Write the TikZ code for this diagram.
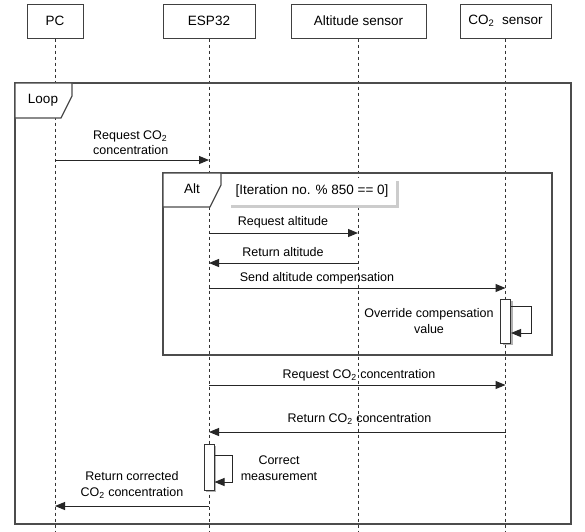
\documentclass[tikz,border=0pt]{standalone}
\usepackage{fontspec}
\setmainfont{Liberation Sans}
\usetikzlibrary{arrows.meta,shadows}
\tikzset{
  hdr/.style={draw=black!75, line width=1pt, fill=white, minimum height=34pt, inner sep=0pt, font=\fontsize{13.5}{16}\selectfont},
  life/.style={draw=black!80, line width=1pt, dash pattern=on 3pt off 3pt},
  frame/.style={draw=black!70, line width=1.2pt},
  tab/.style={draw=black!70, line width=1.2pt, fill=white},
  msg/.style={draw=black!85, line width=1pt, -{Triangle[length=10pt,width=8pt]}},
  lbl/.style={font=\fontsize{12.5}{15.5}\selectfont, inner sep=0pt, align=center},
  ttl/.style={font=\fontsize{13.5}{16}\selectfont, inner sep=0pt},
  act/.style={draw=black!80, line width=1pt, fill=white, minimum width=10pt, inner sep=0pt,
    drop shadow={shadow xshift=2pt, shadow yshift=-2pt, fill=black!30, opacity=1}},
}
\begin{document}
\begin{tikzpicture}[x=1pt,y=-1pt]
\useasboundingbox (0,0) rectangle (585,531);
\fill[white] (0,0) rectangle (585,531);

% lifeline ends
\coordinate (pcE) at (55,531);
\coordinate (espE) at (209,531);
\coordinate (altE) at (358,531);
\coordinate (co2E) at (505.5,531);

% header boxes
\node[hdr, minimum width=56pt] (pc) at (55,21) {PC};
\node[hdr, minimum width=92pt] (esp) at (209,21) {ESP32};
\node[hdr, minimum width=135pt] (alt) at (358.5,21) {Altitude sensor};
\node[hdr, minimum width=91pt] (co2) at (505.5,21) {CO\textsubscript{2}~ sensor};

% lifelines
\draw[life] (pc.south) -- (pcE);
\draw[life] (esp.south) -- (espE);
\draw[life] (alt.south -| altE) -- (altE);
\draw[life] (co2.south) -- (co2E);

% loop frame
\draw[frame] (15,83) rectangle (571,524);
\draw[tab] (15,83) -- (72,83) -- (72,96) -- (61,118) -- (15,118) -- cycle;
\node[ttl] (looplbl) at (43,100) {Loop};

% request CO2 (PC -> ESP32)
\coordinate (m1a) at (55,160);
\coordinate (m1b) at (209,160);
\draw[msg] (m1a) -- (m1b);
\node[lbl, align=left, anchor=west] (m1l) at (93,142.5) {Request CO\textsubscript{2}\\concentration};

% alt frame
\draw[frame] (163,173) rectangle (552,355);
\draw[tab] (163,173) -- (221,173) -- (221,185) -- (210,207) -- (163,207) -- cycle;
\node[ttl] (altlbl) at (192,189) {Alt};
\node[ttl, fill=white, minimum width=168pt, minimum height=27pt,
  drop shadow={shadow xshift=3pt, shadow yshift=-3pt, fill=black!20, opacity=1}] (guard) at (312,191.5) {[Iteration no. \% 850 == 0]};

% request altitude
\coordinate (m2a) at (209,233);
\coordinate (m2b) at (358,233);
\draw[msg] (m2a) -- (m2b);
\node[lbl] (m2l) at (283,222) {Request altitude};

% return altitude
\coordinate (m3a) at (358,263);
\coordinate (m3b) at (209,263);
\draw[msg] (m3a) -- (m3b);
\node[lbl] (m3l) at (283,252) {Return altitude};

% send altitude compensation
\coordinate (m4a) at (209,288);
\coordinate (m4b) at (505.5,288);
\draw[msg] (m4a) -- (m4b);
\node[lbl] (m4l) at (317,278) {Send altitude compensation};

% activation on CO2 sensor
\node[act, minimum height=44pt] (actC) at (505.5,321) {};
\coordinate (sC1) at (531,306);
\coordinate (sC2) at (531,333);
\draw[msg, -] (actC.east |- sC1) -- (sC1);
\draw[msg] (sC1) -- (sC2) -- (actC.east |- sC2);
\node[lbl] (ovl) at (429,321) {Override compensation\\value};

% request CO2 concentration
\coordinate (m5a) at (209,385);
\coordinate (m5b) at (505.5,385);
\draw[msg] (m5a) -- (m5b);
\node[lbl] (m5l) at (359,375) {Request CO\textsubscript{2} concentration};

% return CO2 concentration
\coordinate (m6a) at (505.5,432);
\coordinate (m6b) at (209,432);
\draw[msg] (m6a) -- (m6b);
\node[lbl] (m6l) at (359.5,419) {Return CO\textsubscript{2} concentration};

% activation on ESP32
\node[act, minimum height=46pt] (actE) at (209,467) {};
\coordinate (sE1) at (232,455);
\coordinate (sE2) at (232,482);
\draw[msg, -] (actE.east |- sE1) -- (sE1);
\draw[msg] (sE1) -- (sE2) -- (actE.east |- sE2);
\node[lbl] (cml) at (279,468) {Correct\\measurement};

% return corrected CO2
\coordinate (m7a) at (209,506);
\coordinate (m7b) at (55,506);
\draw[msg] (m7a) -- (m7b);
\node[lbl] (m7l) at (132,485) {Return corrected\\CO\textsubscript{2} concentration};
\end{tikzpicture}
\end{document}
